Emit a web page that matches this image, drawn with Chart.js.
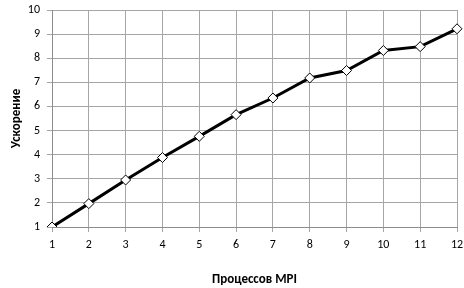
<!DOCTYPE html>
<html><head><meta charset="utf-8">
<script src="https://cdn.jsdelivr.net/npm/chart.js@4"></script>
<style>html,body{margin:0;padding:0;background:#fff}#wrap{width:464px;height:288px}</style>
</head><body><div id="wrap"><canvas id="c" width="464" height="288"></canvas></div>
<script>
const processes = ['1','2','3','4','5','6','7','8','9','10','11','12'];
const speedup = [1.0, 1.97, 2.95, 3.88, 4.76, 5.66, 6.35, 7.18, 7.49, 8.32, 8.48, 9.22];
const xTitle = 'Процессов MPI';
const yTitle = 'Ускорение';
const FONT = 'Calibri, Carlito, "Open Sans", "DejaVu Sans", sans-serif';
new Chart(document.getElementById('c'), {
  type: 'line',
  data: { labels: processes, datasets: [{
    data: speedup, borderColor: '#000', borderWidth: 3, tension: 0,
    pointStyle: 'rectRot', pointRadius: 5, pointBackgroundColor: '#fff',
    pointBorderColor: '#000', pointBorderWidth: 1
  }]},
  options: {
    responsive: false, animation: false,
    layout: { padding: { top: 10, right: 7, left: 0, bottom: 0 } },
    plugins: { legend: { display: false }, tooltip: { enabled: false } },
    scales: {
      x: {
        offset: false,
        grid: { color: '#a6a6a6', lineWidth: 1, tickLength: 5, drawTicks: true },
        border: { color: '#8c8c8c', width: 1 },
        ticks: { color: '#000', font: { family: FONT, size: 12 }, padding: 6, maxRotation: 0 },
        title: { display: true, text: xTitle, color: '#000', font: { family: FONT, size: 13, weight: 'bold' }, padding: { top: 12, bottom: 0 } },
        afterFit: s => { s.height = 61; s.paddingLeft = 0; s.paddingRight = 0; }
      },
      y: {
        min: 1, max: 10,
        grid: { color: '#a6a6a6', lineWidth: 1, tickLength: 5 },
        border: { color: '#8c8c8c', width: 1 },
        ticks: { stepSize: 1, color: '#000', font: { family: FONT, size: 12 }, padding: 7 },
        title: { display: true, text: yTitle, color: '#000', font: { family: FONT, size: 13, weight: 'bold' }, padding: { top: 9, bottom: 0 } },
        afterFit: s => { s.width = 52; s.paddingTop = 0; s.paddingBottom = 0; }
      }
    }
  }
});
</script></body></html>
